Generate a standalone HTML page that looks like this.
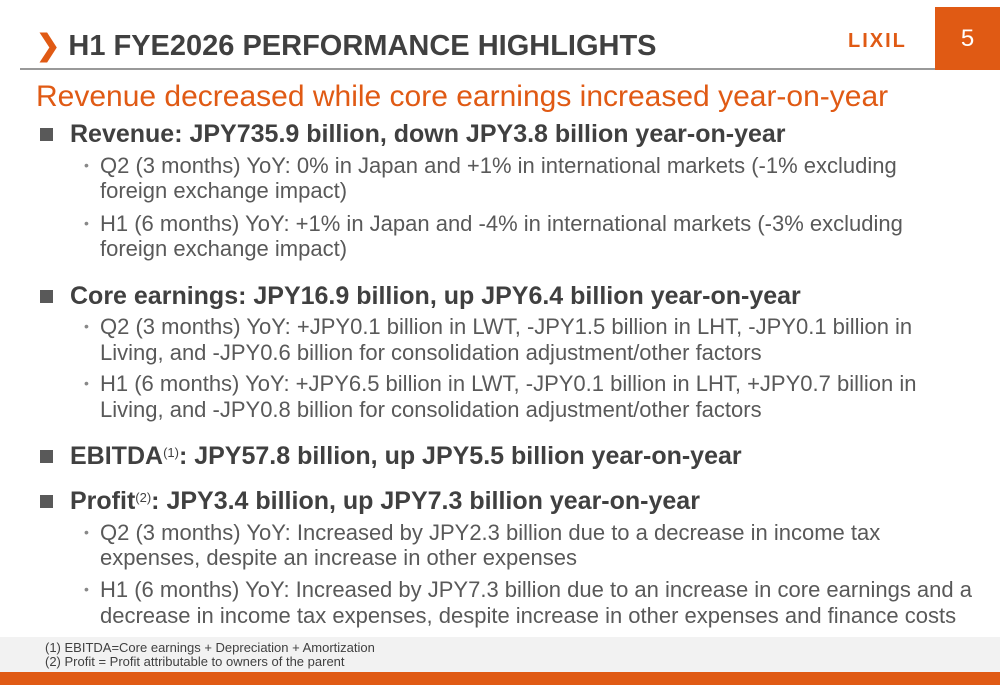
<!DOCTYPE html>
<html><head><meta charset="utf-8"><style>
body{margin:0;width:1000px;height:685px;position:relative;background:#fff;font-family:"Liberation Sans",sans-serif;overflow:hidden}
.a{position:absolute;white-space:nowrap}
.l1{font-size:25px;font-weight:bold;color:#404040;left:70px}
.l2{font-size:22px;color:#595959;left:100px}
.sq{position:absolute;left:40px;width:13px;height:13px;background:#595959}
.dot{position:absolute;left:84px;color:#888;font-size:14px}
sup{font-size:13px;font-weight:normal;vertical-align:7px}
</style></head><body>
<div class="a" style="left:36px;top:28px;font-size:29px;font-weight:bold;color:#404040"><span style="color:#e05a14">&#x276F;</span> H1 FYE2026 PERFORMANCE HIGHLIGHTS</div>
<div style="position:absolute;left:20px;top:68px;width:955px;height:2px;background:#999"></div>
<div class="a" style="left:848px;top:30px;font-size:20px;font-weight:bold;color:#e05a14;letter-spacing:2px">LIXIL</div>
<div style="position:absolute;left:935px;top:7px;width:65px;height:63px;background:#e05a14;color:#fff;font-size:24px;text-align:center;line-height:63px">5</div>
<div class="a" style="left:36px;top:80px;font-size:30px;color:#e05a14">Revenue decreased while core earnings increased year-on-year</div>

<div class="sq" style="top:128px"></div>
<div class="a l1" style="top:120px">Revenue: JPY735.9 billion, down JPY3.8 billion year-on-year</div>
<div class="dot" style="top:157px">•</div>
<div class="a l2" style="top:153px">Q2 (3 months) YoY: 0% in Japan and +1% in international markets (-1% excluding</div>
<div class="a l2" style="top:178px">foreign exchange impact)</div>
<div class="dot" style="top:215px">•</div>
<div class="a l2" style="top:211px">H1 (6 months) YoY: +1% in Japan and -4% in international markets (-3% excluding</div>
<div class="a l2" style="top:236px">foreign exchange impact)</div>

<div class="sq" style="top:290px"></div>
<div class="a l1" style="top:282px">Core earnings: JPY16.9 billion, up JPY6.4 billion year-on-year</div>
<div class="dot" style="top:318px">•</div>
<div class="a l2" style="top:314px">Q2 (3 months) YoY: +JPY0.1 billion in LWT, -JPY1.5 billion in LHT, -JPY0.1 billion in</div>
<div class="a l2" style="top:340px">Living, and -JPY0.6 billion for consolidation adjustment/other factors</div>
<div class="dot" style="top:375px">•</div>
<div class="a l2" style="top:371px">H1 (6 months) YoY: +JPY6.5 billion in LWT, -JPY0.1 billion in LHT, +JPY0.7 billion in</div>
<div class="a l2" style="top:397px">Living, and -JPY0.8 billion for consolidation adjustment/other factors</div>

<div class="sq" style="top:450px"></div>
<div class="a l1" style="top:442px">EBITDA<sup>(1)</sup>: JPY57.8 billion, up JPY5.5 billion year-on-year</div>

<div class="sq" style="top:495px"></div>
<div class="a l1" style="top:487px">Profit<sup>(2)</sup>: JPY3.4 billion, up JPY7.3 billion year-on-year</div>
<div class="dot" style="top:524px">•</div>
<div class="a l2" style="top:520px">Q2 (3 months) YoY: Increased by JPY2.3 billion due to a decrease in income tax</div>
<div class="a l2" style="top:545px">expenses, despite an increase in other expenses</div>
<div class="dot" style="top:581px">•</div>
<div class="a l2" style="top:577px">H1 (6 months) YoY: Increased by JPY7.3 billion due to an increase in core earnings and a</div>
<div class="a l2" style="top:603px">decrease in income tax expenses, despite increase in other expenses and finance costs</div>

<div style="position:absolute;left:0;top:637px;width:1000px;height:35px;background:#f2f2f2"></div>
<div class="a" style="left:45px;top:640px;font-size:13px;color:#404040">(1) EBITDA=Core earnings + Depreciation + Amortization</div>
<div class="a" style="left:45px;top:654px;font-size:13px;color:#404040">(2) Profit = Profit attributable to owners of the parent</div>
<div style="position:absolute;left:0;top:672px;width:1000px;height:13px;background:#e05a14"></div>
</body></html>
